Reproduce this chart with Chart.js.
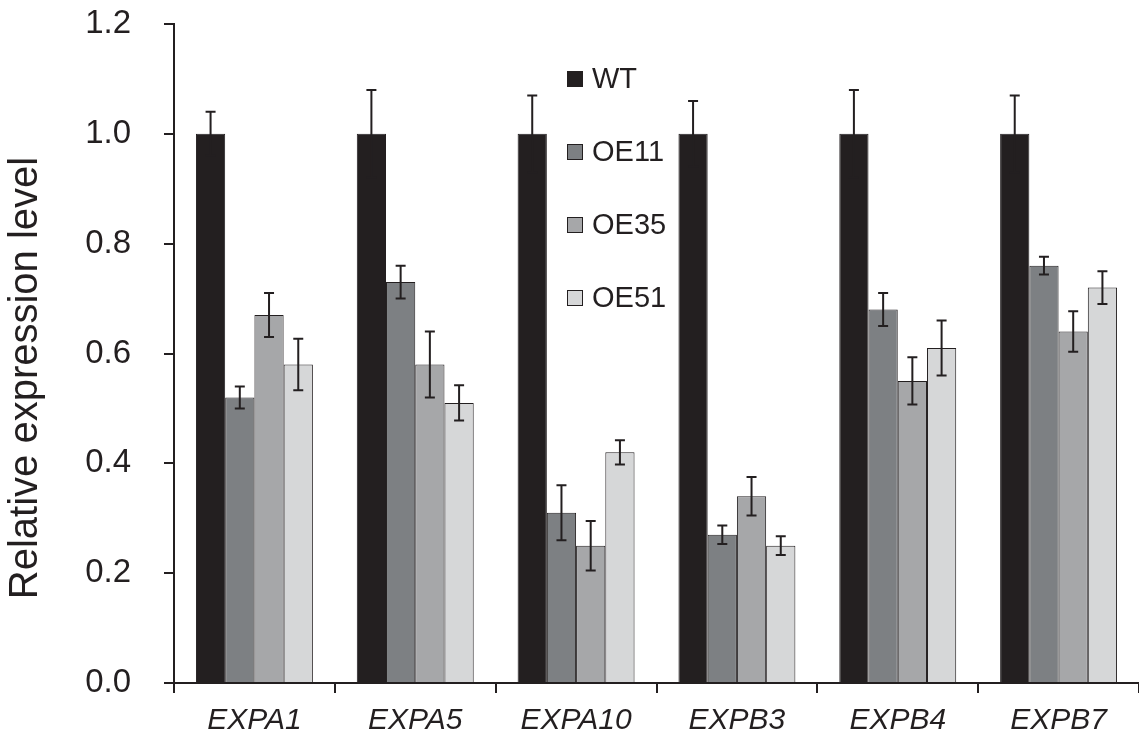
<!DOCTYPE html>
<html>
<head>
<meta charset="utf-8">
<script src="https://cdn.jsdelivr.net/npm/chart.js@4"></script>
<style>
  html, body { margin: 0; padding: 0; background: #ffffff; }
  #wrap { width: 1139px; height: 738px; }
</style>
</head>
<body>
<div id="wrap"><canvas id="c" width="1139" height="738"></canvas></div>
<script>
// Expansin genes and plant lines
const genes = ['EXPA1', 'EXPA5', 'EXPA10', 'EXPB3', 'EXPB4', 'EXPB7'];
const lineNames = ['WT', 'OE11', 'OE35', 'OE51'];

// Mean relative expression and standard error per line
const wtMean   = [1.00, 1.00, 1.00, 1.00, 1.00, 1.00];
const wtErr    = [0.04, 0.08, 0.07, 0.06, 0.08, 0.07];
const oe11Mean = [0.52, 0.73, 0.31, 0.27, 0.68, 0.76];
const oe11Err  = [0.02, 0.03, 0.05, 0.017, 0.03, 0.016];
const oe35Mean = [0.67, 0.58, 0.25, 0.34, 0.55, 0.64];
const oe35Err  = [0.04, 0.06, 0.045, 0.035, 0.043, 0.037];
const oe51Mean = [0.58, 0.51, 0.42, 0.25, 0.61, 0.72];
const oe51Err  = [0.047, 0.032, 0.022, 0.017, 0.05, 0.03];

// Y axis range and tick step
const yMin = 0, yMax = 1.2, yStep = 0.2;
const yTitle = 'Relative expression level';

const INK = '#231f20';
const FONT = '"Liberation Sans", Arial, Helvetica, sans-serif';
const fills = ['#231f20', '#7d8083', '#a6a7a9', '#d6d7d8'];
const means = [wtMean, oe11Mean, oe35Mean, oe51Mean];
const errs = [wtErr, oe11Err, oe35Err, oe51Err];

const datasets = lineNames.map((name, i) => ({
  label: name,
  data: means[i],
  errors: errs[i],
  backgroundColor: fills[i],
  borderColor: INK,
  borderWidth: 1,
  categoryPercentage: 0.727,
  barPercentage: 1.0
}));

// Symmetric error bars with caps
const errorBars = {
  id: 'errorBars',
  afterDatasetsDraw(chart) {
    const ctx = chart.ctx;
    const y = chart.scales.y;
    ctx.save();
    ctx.strokeStyle = INK;
    ctx.lineWidth = 2;
    chart.data.datasets.forEach((ds, di) => {
      const meta = chart.getDatasetMeta(di);
      meta.data.forEach((bar, k) => {
        const v = ds.data[k], e = ds.errors[k];
        const top = y.getPixelForValue(v + e);
        const bot = y.getPixelForValue(v - e);
        const x = bar.x;
        const half = 5;
        ctx.beginPath();
        ctx.moveTo(x, top); ctx.lineTo(x, bot);
        ctx.moveTo(x - half, top); ctx.lineTo(x + half, top);
        ctx.moveTo(x - half, bot); ctx.lineTo(x + half, bot);
        ctx.stroke();
      });
    });
    ctx.restore();
  }
};

// Legend inside the plot and rotated y-axis title
const overlay = {
  id: 'overlay',
  afterDraw(chart) {
    const ctx = chart.ctx;
    ctx.save();
    const lx = 567, ly0 = 79, dy = 73, sz = 16;
    ctx.font = '29px ' + FONT;
    ctx.textBaseline = 'middle';
    ctx.textAlign = 'left';
    chart.data.datasets.forEach((ds, i) => {
      const cy = ly0 + i * dy;
      ctx.fillStyle = ds.backgroundColor;
      ctx.fillRect(lx, cy - sz / 2, sz, sz);
      ctx.strokeStyle = INK;
      ctx.lineWidth = 1;
      ctx.strokeRect(lx + 0.5, cy - sz / 2 + 0.5, sz - 1, sz - 1);
      ctx.fillStyle = INK;
      ctx.fillText(ds.label, lx + sz + 9, cy + 1);
    });
    ctx.translate(26, 378);
    ctx.rotate(-Math.PI / 2);
    ctx.textAlign = 'center';
    ctx.font = '40px ' + FONT;
    ctx.fillText(yTitle, 0, 0);
    ctx.restore();
  }
};

new Chart(document.getElementById('c'), {
  type: 'bar',
  data: { labels: genes, datasets },
  options: {
    responsive: false,
    devicePixelRatio: 1,
    animation: false,
    layout: { padding: { top: 24, right: 0, bottom: 0, left: 0 } },
    plugins: { legend: { display: false }, tooltip: { enabled: false } },
    scales: {
      x: {
        afterFit(s) { s.height = 55; s.paddingLeft = 0; s.paddingRight = 0; },
        grid: { display: true, drawOnChartArea: false, drawTicks: true, tickLength: 10, color: INK, lineWidth: 2, offset: true },
        border: { display: true, color: INK, width: 2 },
        ticks: { color: INK, padding: 10, font: { family: FONT, size: 30, style: 'italic' } }
      },
      y: {
        min: yMin, max: yMax,
        afterFit(s) { s.width = 174; s.paddingTop = 0; s.paddingBottom = 0; },
        grid: { display: true, drawOnChartArea: false, drawTicks: true, tickLength: 10, color: INK, lineWidth: 2 },
        border: { display: true, color: INK, width: 2 },
        ticks: {
          stepSize: yStep, color: INK, padding: 33,
          font: { family: FONT, size: 33 },
          callback: v => Number(v).toFixed(1)
        }
      }
    }
  },
  plugins: [errorBars, overlay]
});
</script>
</body>
</html>
